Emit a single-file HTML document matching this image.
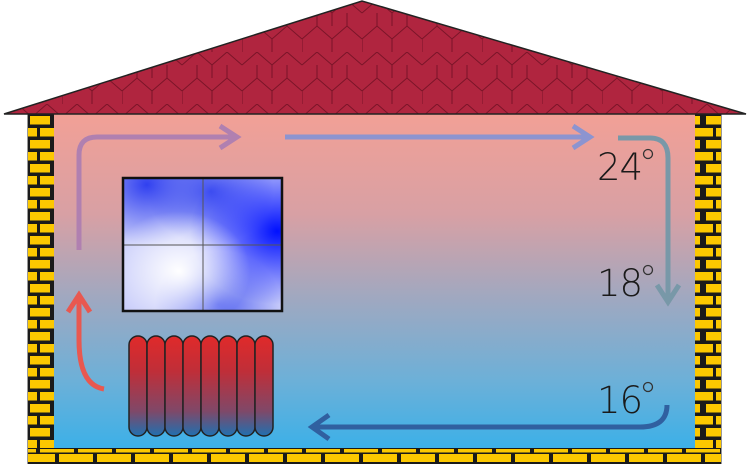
<!DOCTYPE html>
<html><head><meta charset="utf-8"><style>
html,body{margin:0;padding:0;background:#fff;width:750px;height:464px;overflow:hidden}
</style></head><body>
<svg width="750" height="464" viewBox="0 0 750 464" xmlns="http://www.w3.org/2000/svg">
<defs>
<pattern id="brick" width="26" height="24" patternUnits="userSpaceOnUse" x="28" y="114">
<rect width="26" height="24" fill="#1a1a1a"/>
<rect x="2" y="2" width="20" height="8.5" fill="#fcc800"/>
<rect x="-11" y="14" width="20" height="8.5" fill="#fcc800"/>
<rect x="12" y="14" width="20" height="8.5" fill="#fcc800"/>
</pattern>
<pattern id="brickH" width="38" height="16" patternUnits="userSpaceOnUse" x="0" y="448">
<rect width="38" height="16" fill="#1a1a1a"/>
<rect x="2" y="1" width="34" height="3.5" fill="#fcc800"/>
<rect x="-17" y="6" width="34" height="8" fill="#fcc800"/>
<rect x="21" y="6" width="34" height="8" fill="#fcc800"/>
</pattern>
<pattern id="shingle" width="60" height="52" patternUnits="userSpaceOnUse" x="362" y="0">
<rect width="60" height="52" fill="#b0253f"/>
<path d="M0 13 L15 0 L30 13 L45 0 L60 13 M15 26 L15 13 M45 26 L45 13 M0 39 L15 26 L30 39 L45 26 L60 39 M0 52 L0 39 M30 52 L30 39 M30 13 L30 26" stroke="#7a1428" stroke-width="1" fill="none"/>
</pattern>
<linearGradient id="room" x1="0" y1="0" x2="0" y2="1">
<stop offset="0" stop-color="#f2a096"/>
<stop offset="0.3" stop-color="#d8a0a4"/>
<stop offset="0.55" stop-color="#a0a8c0"/>
<stop offset="0.8" stop-color="#6cb0d8"/>
<stop offset="1" stop-color="#3cb0e8"/>
</linearGradient>
<linearGradient id="rad" x1="0" y1="0" x2="0" y2="1">
<stop offset="0" stop-color="#e02a2a"/>
<stop offset="0.35" stop-color="#c02e38"/>
<stop offset="0.75" stop-color="#804868"/>
<stop offset="1" stop-color="#2070b0"/>
</linearGradient>
<radialGradient id="c1" cx="0.97" cy="0.4" r="0.55"><stop offset="0" stop-color="#0010ff"/><stop offset="1" stop-color="#0010ff" stop-opacity="0"/></radialGradient>
<radialGradient id="c2" cx="0.15" cy="0.05" r="0.45"><stop offset="0" stop-color="#3040f0"/><stop offset="1" stop-color="#3040f0" stop-opacity="0"/></radialGradient>
<radialGradient id="c3" cx="0.6" cy="0.95" r="0.4"><stop offset="0" stop-color="#5060f0"/><stop offset="1" stop-color="#5060f0" stop-opacity="0"/></radialGradient>
<radialGradient id="c4" cx="0.55" cy="0.1" r="0.4"><stop offset="0" stop-color="#4050f0"/><stop offset="1" stop-color="#4050f0" stop-opacity="0"/></radialGradient>
<radialGradient id="w1" cx="0.35" cy="0.7" r="0.45"><stop offset="0" stop-color="#ffffff"/><stop offset="1" stop-color="#ffffff" stop-opacity="0"/></radialGradient>
</defs>
<!-- walls -->
<rect x="28" y="114" width="26" height="340" fill="url(#brick)"/>
<rect x="695" y="114" width="26" height="340" fill="url(#brick)"/>
<rect x="28" y="448" width="693" height="16" fill="url(#brickH)"/>
<line x1="27.5" y1="114" x2="27.5" y2="464" stroke="#999"/>
<line x1="721.5" y1="114" x2="721.5" y2="464" stroke="#999"/>
<!-- room -->
<rect x="54" y="114" width="641" height="334" fill="url(#room)"/>
<!-- roof -->
<polygon points="4,114 362,1 746,114" fill="url(#shingle)" stroke="#222" stroke-width="1.5"/>
<!-- window -->
<rect x="123" y="178" width="159" height="133" fill="#c8ccfa"/>
<rect x="123" y="178" width="159" height="133" fill="url(#c2)"/>
<rect x="123" y="178" width="159" height="133" fill="url(#c4)"/>
<rect x="123" y="178" width="159" height="133" fill="url(#c3)"/>
<rect x="123" y="178" width="159" height="133" fill="url(#c1)"/>
<rect x="123" y="178" width="159" height="133" fill="url(#w1)"/>
<line x1="203" y1="178" x2="203" y2="311" stroke="#555" stroke-width="1"/>
<line x1="123" y1="245" x2="282" y2="245" stroke="#555" stroke-width="1"/>
<rect x="123" y="178" width="159" height="133" fill="none" stroke="#111" stroke-width="2.5"/>
<!-- radiator -->
<g fill="url(#rad)" stroke="#222" stroke-width="1.5">
<rect x="129" y="336" width="18" height="100" rx="9"/>
<rect x="147" y="336" width="18" height="100" rx="9"/>
<rect x="165" y="336" width="18" height="100" rx="9"/>
<rect x="183" y="336" width="18" height="100" rx="9"/>
<rect x="201" y="336" width="18" height="100" rx="9"/>
<rect x="219" y="336" width="18" height="100" rx="9"/>
<rect x="237" y="336" width="18" height="100" rx="9"/>
<rect x="255" y="336" width="18" height="100" rx="9"/>
</g>
<!-- arrows -->
<g fill="none" stroke-width="5" stroke-linecap="butt">
<path d="M79 250 V155 Q79 137 97 137 H237" stroke="#b080b0"/>
<path d="M220 126 L237 137 L220 148" stroke="#b080b0"/>
<path d="M285 137 H590" stroke="#8c94d0"/>
<path d="M573 126 L590 137 L573 148" stroke="#8c94d0"/>
<path d="M618 138 H650 Q668 138 668 158 V302" stroke="#7898a8"/>
<path d="M657 285 L668 302 L679 285" stroke="#7898a8"/>
<path d="M667 405 Q667 427 640 427 H312" stroke="#3060a0"/>
<path d="M329 415 L312 427 L329 439" stroke="#3060a0"/>
<path d="M104 389 Q79 385 79 340 V297" stroke="#e85850"/>
<path d="M68 312 L79 295 L90 312" stroke="#e85850"/>
</g>
<!-- labels -->
<g font-family="DejaVu Sans, Liberation Sans, sans-serif" font-size="37" fill="#1a1a1a" font-weight="200">
<text x="597" y="180" textLength="46">24</text>
<text x="597" y="296" textLength="46">18</text>
<text x="597" y="413" textLength="46">16</text>
</g>
<g fill="none" stroke="#333" stroke-width="1.3">
<circle cx="648" cy="154" r="4.5"/>
<circle cx="648" cy="270" r="4.5"/>
<circle cx="648" cy="387" r="4.5"/>
</g>
</svg>
</body></html>
